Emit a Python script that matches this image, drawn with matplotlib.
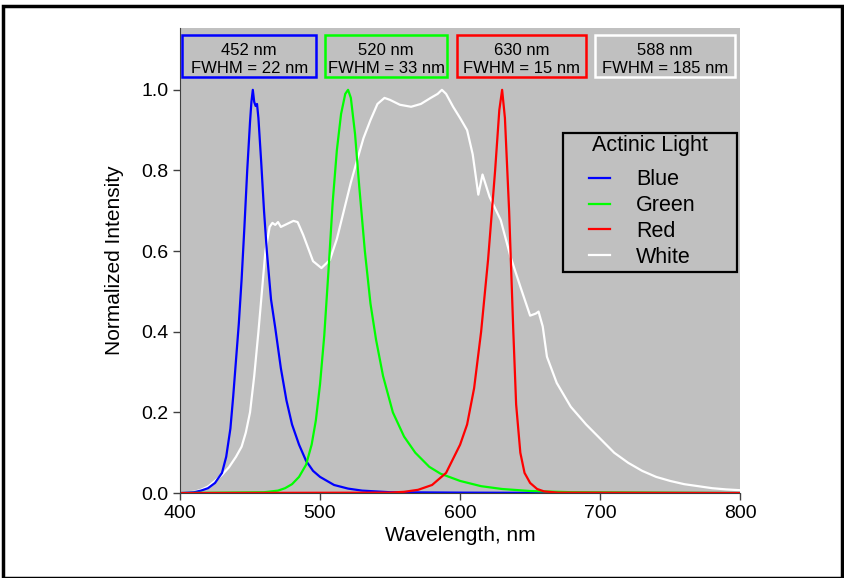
import matplotlib.pyplot as plt
from matplotlib.patches import Rectangle

plt.rcParams['font.family'] = ['Liberation Sans', 'DejaVu Sans']

# Emission spectra of the actinic LEDs (wavelength in nm, normalized intensity)
wl_blue = [400, 410, 415, 420, 425, 430, 433, 436, 438, 440, 442, 444, 446, 448, 450, 451,
           452, 453, 454, 455, 456, 458, 460, 462, 465, 468, 472, 476, 480, 485, 490, 495,
           500, 510, 520, 530, 550, 600, 700, 800]
int_blue = [0.0, 0.002, 0.006, 0.012, 0.025, 0.05, 0.09, 0.16, 0.24, 0.33, 0.42, 0.53, 0.66,
            0.8, 0.92, 0.97, 1.0, 0.97, 0.96, 0.965, 0.93, 0.82, 0.7, 0.6, 0.48, 0.41, 0.31,
            0.23, 0.17, 0.12, 0.08, 0.055, 0.04, 0.02, 0.011, 0.006, 0.002, 0.001, 0.0, 0.0]

wl_green = [400, 460, 470, 475, 480, 485, 490, 494, 497, 500, 503, 506, 509, 512, 515, 518,
            520, 522, 525, 528, 532, 536, 540, 545, 552, 560, 568, 578, 586, 600, 615, 630,
            650, 680, 800]
int_green = [0.0, 0.002, 0.006, 0.012, 0.022, 0.04, 0.07, 0.12, 0.18, 0.27, 0.39, 0.55, 0.72,
             0.85, 0.94, 0.99, 1.0, 0.98, 0.89, 0.76, 0.6, 0.47, 0.38, 0.29, 0.2, 0.14, 0.1,
             0.065, 0.048, 0.03, 0.017, 0.01, 0.005, 0.002, 0.0]

wl_red = [400, 550, 560, 570, 580, 590, 600, 605, 610, 615, 620, 625, 628, 630, 632, 635,
          638, 640, 643, 646, 650, 655, 660, 670, 800]
int_red = [0.0, 0.001, 0.003, 0.008, 0.02, 0.05, 0.12, 0.17, 0.26, 0.4, 0.58, 0.8, 0.95, 1.0,
           0.93, 0.7, 0.4, 0.22, 0.1, 0.05, 0.025, 0.01, 0.004, 0.001, 0.0]

wl_white = [400, 410, 415, 420, 425, 430, 435, 440, 444, 447, 450, 453, 456, 459, 461, 464,
            466, 468, 470, 472, 475, 478, 481, 484, 488, 495, 501, 507, 512, 517, 522, 526,
            531, 536, 541, 546, 550, 557, 565, 572, 579, 584, 587, 590, 595, 600, 605, 609,
            613, 616, 621, 629, 636, 643, 650, 654, 656, 659, 662, 669, 679, 690, 700, 710,
            720, 730, 740, 750, 760, 770, 780, 790, 800]
int_white = [0.0, 0.003, 0.008, 0.016, 0.03, 0.045, 0.064, 0.09, 0.115, 0.15, 0.2, 0.29, 0.4,
             0.52, 0.6, 0.66, 0.67, 0.665, 0.672, 0.66, 0.665, 0.67, 0.675, 0.672, 0.64, 0.575,
             0.558, 0.578, 0.63, 0.7, 0.77, 0.82, 0.88, 0.925, 0.965, 0.98, 0.975, 0.963,
             0.958, 0.965, 0.98, 0.99, 1.0, 0.99, 0.958, 0.93, 0.9, 0.84, 0.74, 0.79, 0.735,
             0.677, 0.586, 0.512, 0.44, 0.445, 0.45, 0.413, 0.338, 0.273, 0.214, 0.17, 0.135,
             0.1, 0.075, 0.055, 0.04, 0.03, 0.022, 0.017, 0.012, 0.009, 0.007]

labels = ["Blue", "Green", "Red", "White"]
colors = ["#0000ff", "#00ff00", "#ff0000", "#ffffff"]
peaks = [452, 520, 630, 588]
fwhm = [22, 33, 15, 185]

fig = plt.figure(figsize=(8.45, 5.78), dpi=100)
ax = fig.add_axes([0.213, 0.147, 0.663, 0.805])
ax.set_facecolor("#c0c0c0")

spectra = [(wl_blue, int_blue), (wl_green, int_green), (wl_red, int_red), (wl_white, int_white)]
# draw white first so the coloured LEDs sit on top
order = [3, 0, 1, 2]
handles = {}
for i in order:
    wl, inten = spectra[i]
    h, = ax.plot(wl, inten, color=colors[i], lw=1.6, label=labels[i])
    handles[i] = h

ax.set_xlim(400, 800)
ax.set_ylim(0, 1.154)
ax.set_xticks([400, 500, 600, 700, 800])
ax.set_yticks([0.0, 0.2, 0.4, 0.6, 0.8, 1.0])
ax.set_yticklabels(["0.0", "0.2", "0.4", "0.6", "0.8", "1.0"])
ax.tick_params(labelsize=14, length=5, width=1, color="#404040")
for s in ["top", "right"]:
    ax.spines[s].set_visible(False)
for s in ["left", "bottom"]:
    ax.spines[s].set_color("#404040")
ax.set_xlabel("Wavelength, nm", fontsize=15, labelpad=3)
ax.set_ylabel("Normalized Intensity", fontsize=15, labelpad=12)

# peak / FWHM boxes across the top
box_x = [(0.004, 0.243), (0.259, 0.477), (0.495, 0.725), (0.741, 0.991)]
for (x0, x1), c, p, f in zip(box_x, colors, peaks, fwhm):
    ax.add_patch(Rectangle((x0, 0.895), x1 - x0, 0.09, transform=ax.transAxes,
                           fill=False, edgecolor=c, lw=1.8, clip_on=False))
    ax.text((x0 + x1) / 2, 0.932, f"{p} nm\nFWHM = {f} nm", transform=ax.transAxes,
            ha="center", va="center", fontsize=12, linespacing=1.22)

# legend: entries, separate title and frame
leg = ax.legend([handles[i] for i in range(4)], labels, loc="center",
                bbox_to_anchor=(0.825, 0.590), fontsize=15.5, frameon=False,
                handlelength=1.0, handletextpad=1.2, borderpad=0,
                labelspacing=0.22, borderaxespad=0)
ax.text(0.839, 0.746, "Actinic Light", transform=ax.transAxes, ha="center",
        va="center", fontsize=15.5)
ax.add_patch(Rectangle((0.684, 0.475), 0.311, 0.299, transform=ax.transAxes,
                       fill=False, edgecolor="black", lw=1.6, zorder=5))

# outer frame around the figure
fig.patches.append(Rectangle((0.004, 0.0), 0.993, 0.99, transform=fig.transFigure,
                             fill=False, edgecolor="black", lw=2.5))

fig.savefig("out.png", dpi=100)
